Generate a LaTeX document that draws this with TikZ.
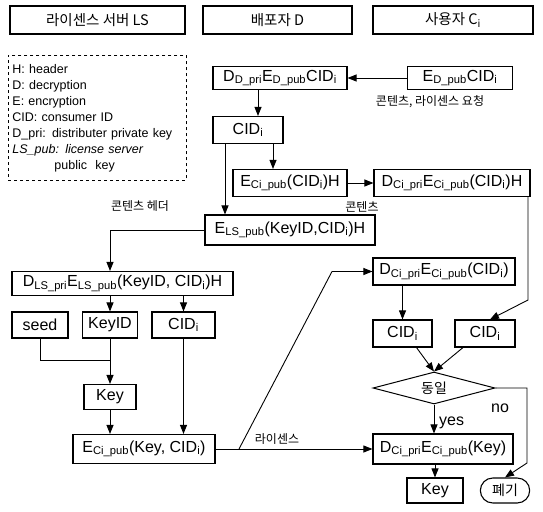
\documentclass[tikz,border=0pt]{standalone}
\usepackage{fontspec}
\setmainfont{Liberation Sans}
\newfontfamily\krfont{Noto Sans CJK KR}
\usetikzlibrary{
  arrows.meta, shapes.geometric, shapes.misc, positioning, calc
}
\newcommand{\ssub}[1]{\textsubscript{#1}}
\tikzset{
  %% -- flowchart process box --
  FC/box/.style={
    draw, line width=1.1pt, inner sep=1pt,
    font=\fontsize{16}{18}\selectfont
  },
  %% -- column heading --
  FC/head/.style={
    draw, line width=1.1pt, minimum height=28pt,
    font=\krfont\fontsize{14.5}{16}\selectfont
  },
  %% -- dashed legend --
  FC/legend/.style={
    draw, dashed, line width=0.9pt, anchor=north west,
    minimum width=177pt, minimum height=125pt,
    text width=170pt, align=left, inner sep=4pt,
    font=\fontsize{12.5}{16}\selectfont
  },
  %% -- decision --
  FC/cond/.style={
    diamond, draw, line width=1pt, aspect=4, inner sep=0pt,
    minimum width=122pt, minimum height=32pt,
    font=\krfont\fontsize{14}{16}\selectfont
  },
  %% -- terminal --
  FC/term/.style={
    rounded rectangle, draw, line width=1.1pt,
    minimum width=56pt, minimum height=25pt,
    font=\krfont\fontsize{14}{16}\selectfont
  },
  FC/arr/.style={-{Triangle[length=9pt,width=7pt]}, line width=0.9pt},
  FC/line/.style={line width=0.9pt},
  FC/lbl/.style={font=\krfont\fontsize{12}{14}\selectfont, inner sep=1pt},
  FC/tag/.style={font=\fontsize{16}{18}\selectfont, inner sep=1pt},
}

\begin{document}
\begin{tikzpicture}[x=1pt, y=-1pt]
\useasboundingbox (0,0) rectangle (543,511);

%% Column headings
\node[FC/head, minimum width=175pt] (hLS) at (97.5, 20) {라이센스 서버 LS};
\node[FC/head, minimum width=149pt] (hD)  at (277.5, 20) {배포자 D};
\node[FC/head, minimum width=160pt] (hC)  at (453, 20) {사용자 C\ssub{i}};

%% Legend
\node[FC/legend] (lgd) at (8, 55) {%
  H: header\\
  D: decryption\\
  E: encryption\\
  CID: consumer ID\\
  D\_pri: distributer private key\\
  \textit{LS\_pub: license server}\\
  \hspace*{42pt}public\ \ key};

%% Distributer column
\node[FC/box, minimum width=134pt, minimum height=23pt] (dDec) at (280, 78)
  {D\ssub{D\_pri}E\ssub{D\_pub}CID\ssub{i}};
\node[FC/box, minimum width=105pt, minimum height=23pt] (eD) at (460, 78)
  {E\ssub{D\_pub}CID\ssub{i}};
\node[FC/box, minimum width=70pt, minimum height=27pt] (cidD) at (248, 130)
  {CID\ssub{i}};
\node[FC/box, minimum width=114pt, minimum height=27pt] (eCi) at (290, 183)
  {E\ssub{Ci\_pub}(CID\ssub{i})H};
\node[FC/box, minimum width=156pt, minimum height=27pt] (dCi) at (452, 183)
  {D\ssub{Ci\_pri}E\ssub{Ci\_pub}(CID\ssub{i})H};
\node[FC/box, minimum width=170pt, minimum height=30pt] (eLS) at (290, 230)
  {E\ssub{LS\_pub}(KeyID,CID\ssub{i})H};

%% License server column
\node[FC/box, minimum width=221pt, minimum height=24pt] (dLS) at (122.5, 283.5)
  {D\ssub{LS\_pri}E\ssub{LS\_pub}(KeyID, CID\ssub{i})H};
\node[FC/box, minimum width=56pt, minimum height=26pt] (seed) at (40, 325) {seed};
\node[FC/box, minimum width=55pt, minimum height=26pt] (kid) at (110, 325) {KeyID};
\node[FC/box, minimum width=63pt, minimum height=26pt] (cidLS) at (183.5, 325)
  {CID\ssub{i}};
\node[FC/box, minimum width=52pt, minimum height=25pt] (key) at (110, 397) {Key};
\node[FC/box, minimum width=142pt, minimum height=29pt] (eKey) at (144, 449)
  {E\ssub{Ci\_pub}(Key, CID\ssub{i})};

%% Consumer column
\node[FC/box, minimum width=142pt, minimum height=27pt] (dCiC) at (444, 271.5)
  {D\ssub{Ci\_pri}E\ssub{Ci\_pub}(CID\ssub{i})};
\node[FC/box, minimum width=59pt, minimum height=27pt] (cidL) at (402.5, 333.5)
  {CID\ssub{i}};
\node[FC/box, minimum width=60pt, minimum height=27pt] (cidR) at (485, 333.5)
  {CID\ssub{i}};
\node[FC/cond] (same) at (434, 388) {동일};
\node[FC/box, minimum width=140pt, minimum height=30pt] (dKey) at (443, 449)
  {D\ssub{Ci\_pri}E\ssub{Ci\_pub}(Key)};
\node[FC/box, minimum width=56pt, minimum height=25pt] (keyC) at (435, 490.5) {Key};
\node[FC/term] (drop) at (505, 490.5) {폐기};

%% Bend points
\coordinate (nBend) at (528, 300);
\coordinate (nJoin) at (110, 360);
\coordinate (nFork) at (239, 449);
\coordinate (nKink) at (332, 271.5);
\coordinate (nNo)   at (527, 388);
\coordinate (nNo2)  at (527, 463);

%% Request and content flow
\draw[FC/arr] (eD) -- (dDec);
\node[FC/lbl] (lReq) at (430, 102) {콘텐츠, 라이센스 요청};
\draw[FC/arr] ([xshift=10pt]cidD.north |- dDec.south) -- ([xshift=10pt]cidD.north);
\draw[FC/arr] ([xshift=25pt]cidD.south) -- ([xshift=25pt]cidD.south |- eCi.north);
\draw[FC/arr] ([xshift=-23pt]cidD.south) -- ([xshift=-23pt]cidD.south |- eLS.north);
\draw[FC/arr] (eCi) -- (dCi);
\node[FC/lbl] (lCont) at (362, 207) {콘텐츠};
\draw[FC/arr] (dCi.south -| nBend) -- (nBend) -- ([xshift=5pt]cidR.north);

%% Header to license server
\draw[FC/arr] (eLS.west) -| ([xshift=-12.5pt]dLS.north);
\node[FC/lbl] (lHead) at (140, 206) {콘텐츠 헤더};
\draw[FC/arr] (dLS.south -| kid.north) -- (kid.north);
\draw[FC/arr] (dLS.south -| cidLS.north) -- (cidLS.north);
\draw[FC/line] (seed.south) |- (nJoin);
\draw[FC/arr] (kid.south) -- (key.north);
\draw[FC/arr] (key.south) -- (key.south |- eKey.north);
\draw[FC/arr] (cidLS.south) -- (cidLS.south |- eKey.north);

%% License to consumer
\draw[FC/arr] (eKey.east) -- (dKey.west);
\draw[FC/line] (nFork) -- (nKink);
\draw[FC/arr] (nKink) -- (dCiC.west);
\node[FC/lbl] (lLic) at (277, 439) {라이센스};

%% Check
\draw[FC/arr] (dCiC.south -| cidL.north) -- (cidL.north);
\draw[FC/arr] ([xshift=14pt]cidL.south) -- (same.north);
\draw[FC/arr] ([xshift=-22pt]cidR.south) -- (same.north);
\draw[FC/arr] (same.south) -- (same.south |- dKey.north);
\node[FC/tag, anchor=west] (lYes) at (438, 423) {yes};
\draw[FC/arr] (same.east) -- (nNo) -- (nNo2) -- (drop.north);
\node[FC/tag] (lNo) at (500, 408) {no};
\draw[FC/arr] (dKey.south -| keyC.north) -- (keyC.north);
\end{tikzpicture}
\end{document}
